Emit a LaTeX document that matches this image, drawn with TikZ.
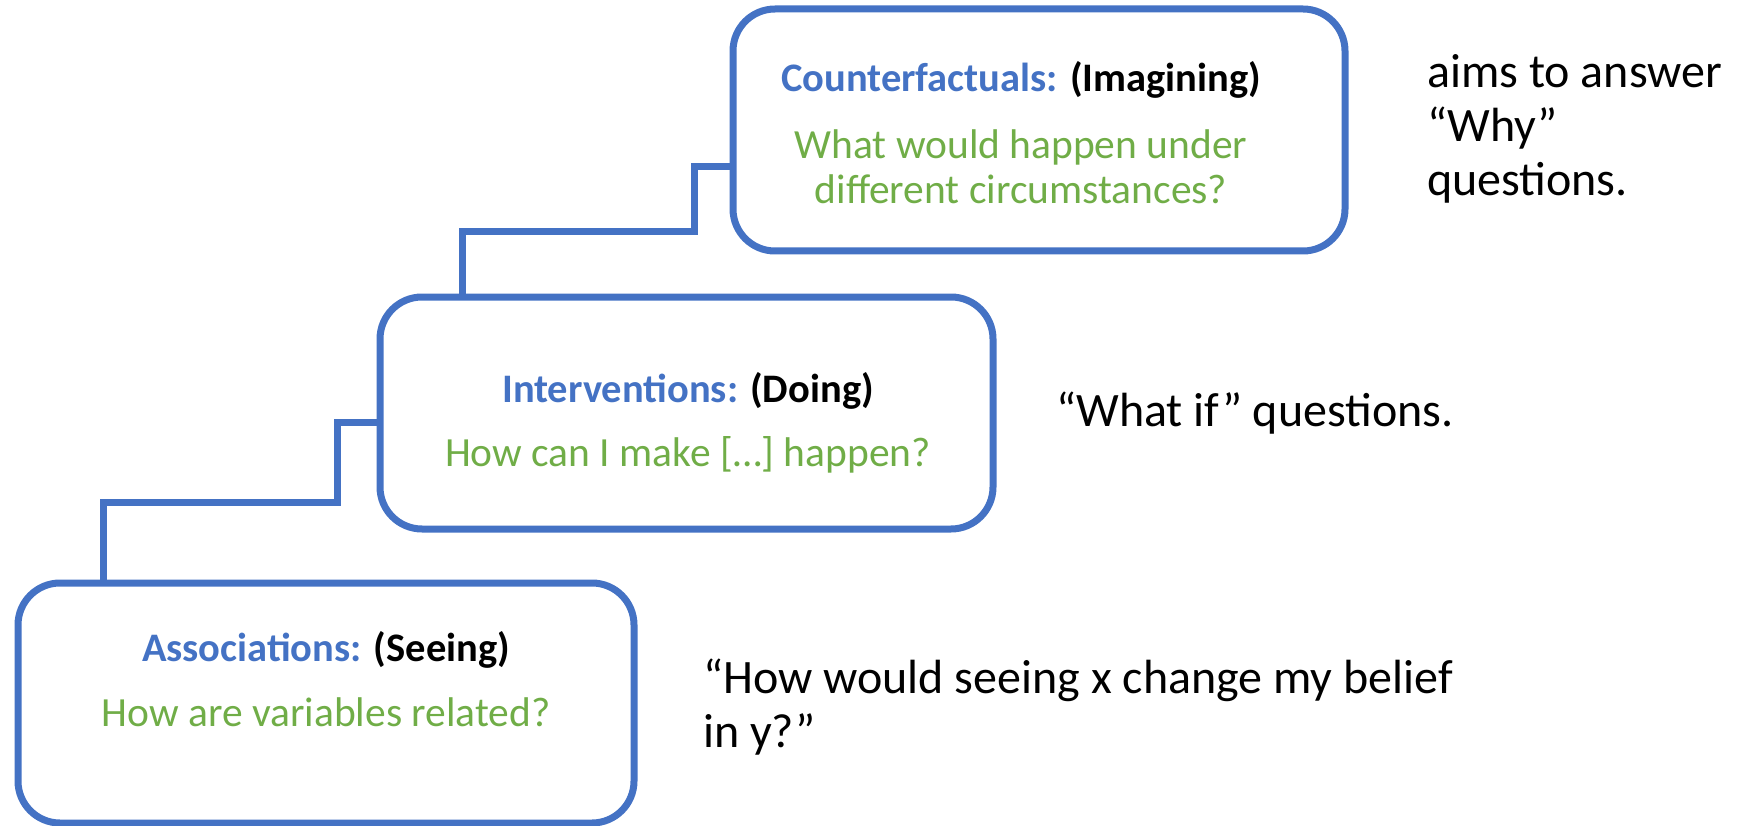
\documentclass[tikz,border=0pt]{standalone}
\usepackage{fontspec}
\setmainfont{Carlito}
\definecolor{cblue}{HTML}{4472C4}
\definecolor{cgreen}{HTML}{70AD47}
\begin{document}
\begin{tikzpicture}[x=1pt,y=-1pt,
  box/.style={draw=cblue, line width=7pt, rounded corners=42pt, inner sep=0pt},
  conn/.style={draw=cblue, line width=7pt},
  title/.style={font=\fontsize{40.5}{46}\selectfont\bfseries, inner sep=0pt},
  sub/.style={font=\fontsize{41.5}{45}\selectfont, text=cgreen, inner sep=0pt, align=center},
  side/.style={font=\fontsize{48}{54}\selectfont, anchor=west, align=left, inner sep=0pt}]
\useasboundingbox (0,0) rectangle (1750,826);
% boxes
\node[box, minimum width=616pt, minimum height=240pt] (b1) at (326,703) {};
\node[box, minimum width=613pt, minimum height=232pt] (b2) at (686.5,413) {};
\node[box, minimum width=612pt, minimum height=242pt] (b3) at (1039,130) {};
% connectors
\draw[conn] (b1.north west -| 103,0) -- (103,502) -- (337,502) -- (337,422) -- (b2.west |- 0,422);
\draw[conn] (b2.north west -| 462,0) -- (462,232) -- (694,232) -- (694,167) -- (b3.west |- 0,167);
% box texts
\node[title] (t1) at (326,650) {\textcolor{cblue}{Associations:} (Seeing)};
\node[sub] (s1) at (326,712) {How are variables related?};
\node[title] (t2) at (688,391) {\textcolor{cblue}{Interventions:} (Doing)};
\node[sub] (s2) at (688,455) {How can I make […] happen?};
\node[title] (t3) at (1021,80) {\textcolor{cblue}{Counterfactuals:} (Imagining)};
\node[sub] (s3) at (1021,167) {What would happen under\\different circumstances?};
% side texts
\node[side] (r3) at (1427,129) {aims to answer\\“Why”\\questions.};
\node[side] (r2) at (1056,413) {“What if” questions.};
\node[side] (r1) at (703,707) {“How would seeing x change my belief\\in y?”};
\end{tikzpicture}
\end{document}
